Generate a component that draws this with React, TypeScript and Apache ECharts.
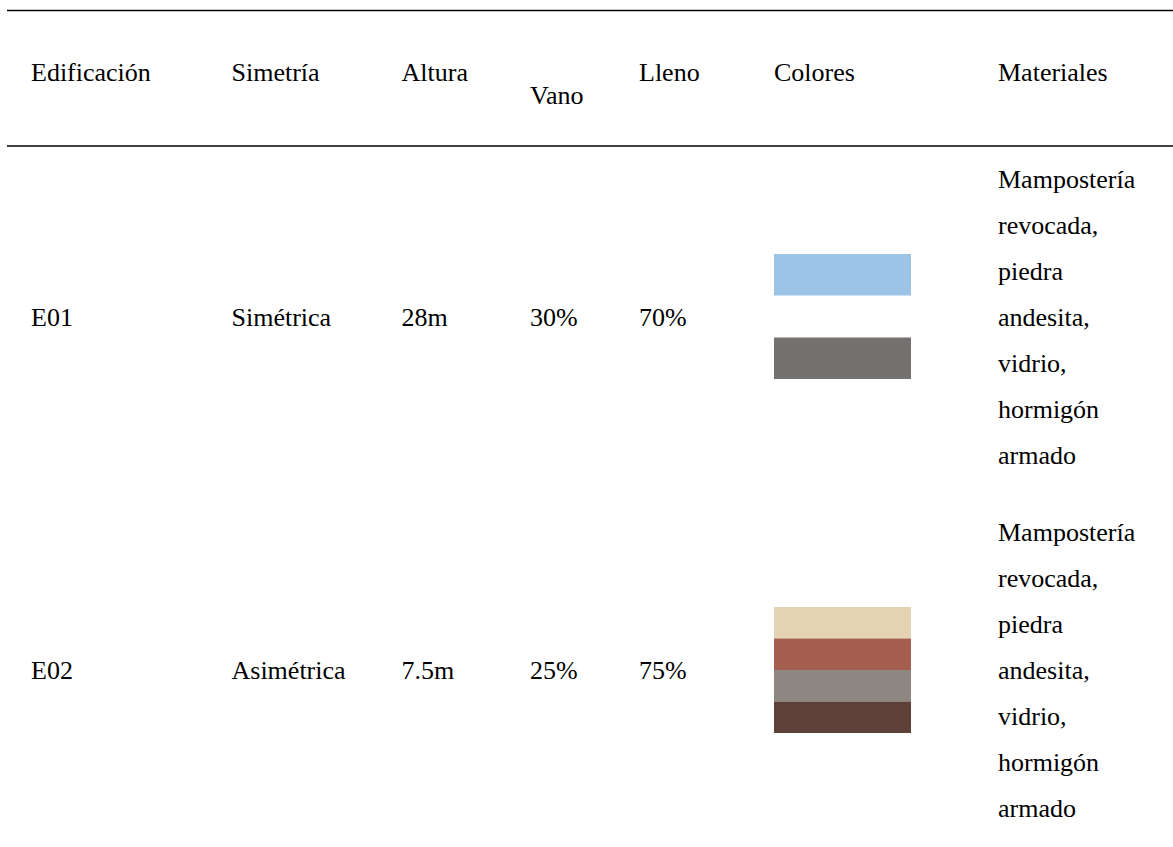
import React, { useEffect, useRef } from "react";
import * as echarts from "echarts";

// ---- data ----
const headers = ["Edificación", "Simetría", "Altura", "Vano", "Lleno", "Colores", "Materiales"];
const edificaciones = ["E01", "E02"];
const simetrias = ["Simétrica", "Asimétrica"];
const alturas = ["28m", "7.5m"];
const vanos = ["30%", "25%"];
const llenos = ["70%", "75%"];
const coloresE01 = ["#9DC3E6", "#767171"];
const coloresE02 = ["#E4D3B3", "#A55E4F", "#8E8680", "#5D4038"];
const materialesE01 = ["Mampostería", "revocada,", "piedra", "andesita,", "vidrio,", "hormigón", "armado"];
const materialesE02 = ["Mampostería", "revocada,", "piedra", "andesita,", "vidrio,", "hormigón", "armado"];

// ---- layout ----
const W = 1173;
const H = 847;
const FONT = "Liberation Serif";
const FS = 26;
const colX = [31, 231.5, 401.5, 530, 639, 774, 998];
const headerY = [72, 72, 72, 95, 72, 72, 72];
const rowY = [317.5, 670.5];
const lineTop = 10.5;
const lineMid = 146;
const swatchX = 774;
const swatchW = 137;
// per-row swatch layout: top, band height, gap between bands
const swatchLayout = [
  { top: 254, h: 41.5, gap: 42 },
  { top: 607, h: 31.5, gap: 0 },
];

function txt(text: string, x: number, y: number, lh?: number) {
  return {
    type: "text",
    x,
    y,
    style: {
      text,
      fill: "#000",
      fontSize: FS,
      fontFamily: FONT,
      fontWeight: "normal",
      lineHeight: lh,
      align: "left",
      verticalAlign: "middle",
    },
  };
}

export default function App() {
  const ref = useRef<HTMLDivElement>(null);
  useEffect(() => {
    document.body.style.margin = "0";
    if (!ref.current) return;
    const chart = echarts.init(ref.current, undefined, { renderer: "svg" });
    const elements: any[] = [];

    elements.push({
      type: "line",
      shape: { x1: 7, y1: lineTop, x2: W, y2: lineTop },
      style: { stroke: "#000", lineWidth: 1.6 },
    });
    elements.push({
      type: "line",
      shape: { x1: 7, y1: lineMid, x2: W, y2: lineMid },
      style: { stroke: "#000", lineWidth: 1.6 },
    });

    headers.forEach((h, i) => elements.push(txt(h, colX[i], headerY[i])));

    const rowCols = [edificaciones, simetrias, alturas, vanos, llenos];
    const colorRows = [coloresE01, coloresE02];
    const materialRows = [materialesE01, materialesE02];

    rowY.forEach((y, r) => {
      rowCols.forEach((col, c) => elements.push(txt(col[r], colX[c], y)));
      const lay = swatchLayout[r];
      colorRows[r].forEach((color, k) => {
        elements.push({
          type: "rect",
          shape: { x: swatchX, y: lay.top + k * (lay.h + lay.gap), width: swatchW, height: lay.h },
          style: { fill: color },
        });
      });
      elements.push(txt(materialRows[r].join("\n"), colX[6], y, 46));
    });

    chart.setOption({
      animation: false,
      backgroundColor: "#fff",
      graphic: { elements },
    });
    return () => chart.dispose();
  }, []);
  return <div ref={ref} style={{ width: W, height: H }} />;
}
